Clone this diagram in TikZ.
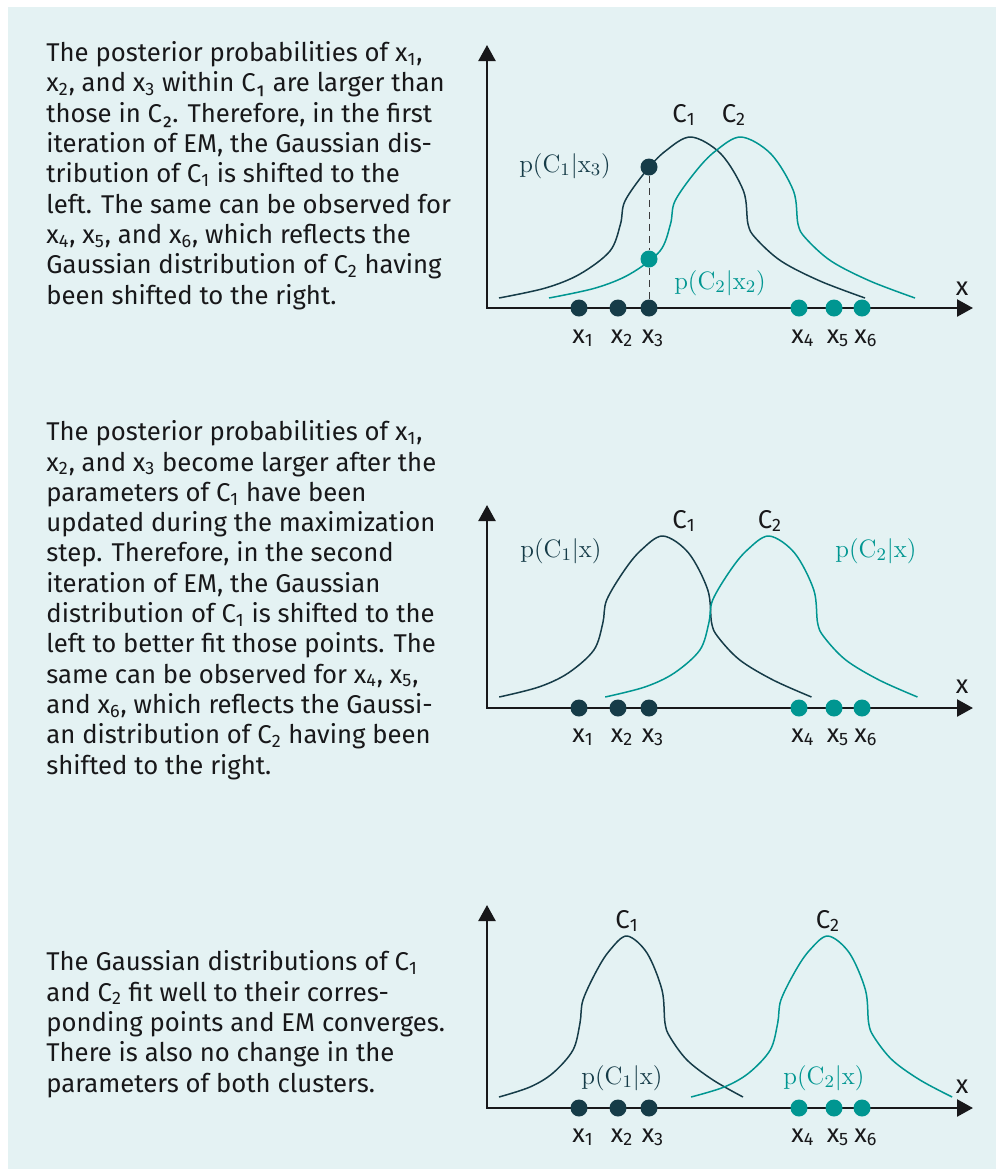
\RequirePackage{fix-cm}
\documentclass[tikz,border=0pt]{standalone}
\usepackage[no-math]{fontspec}
\setmainfont{Fira Sans}
\usepackage{tikz}
\usetikzlibrary{
    arrows.meta,
    calc,
    positioning
}
\definecolor{ink}{RGB}{24,24,26}
\definecolor{panel}{RGB}{228,242,243}
\definecolor{clusterA}{RGB}{22,60,72}
\definecolor{clusterB}{RGB}{0,150,145}
\newcommand{\bodyfont}{\fontsize{12.85}{15.15}\selectfont}
\newcommand{\sub}[1]{\textsubscript{#1}}
% one bell curve: style, peak x, peak y, horizontal stretch
\newcommand{\bellcurve}[4]{%
    \begin{scope}[shift={(#2,#3)}, xscale=#4]
        \draw[#1] plot[smooth, tension=0.55] coordinates {
            (-128,161) (-97,151) (-74,137) (-54,114) (-47,87) (-44,64)
            (-30,34) (-17,14) (0,0) (20,17) (35,54) (38,87) (43,101)
            (60,124) (86,144) (116,161)};
    \end{scope}}
\tikzset{
    line cap=round,
    line join=round,
    explain/.style={
        anchor=base west,
        align=left,
        inner sep=0pt,
        text=ink,
        font=\bodyfont
    },
    axis/.style={
        draw=ink,
        line width=1.2pt,
        line join=miter,
        arrows={Triangle[length=8pt,width=8.5pt]-Triangle[length=8pt,width=8.5pt]}
    },
    curveA/.style={draw=clusterA, line width=0.75pt},
    curveB/.style={draw=clusterB, line width=0.75pt},
    dotA/.style={circle, fill=clusterA, inner sep=0pt, minimum size=8.5pt},
    dotB/.style={circle, fill=clusterB, inner sep=0pt, minimum size=8.5pt},
    ptlabel/.style={anchor=base, inner sep=0pt, text=ink, font=\bodyfont},
    clabel/.style={ptlabel},
    postA/.style={anchor=base, inner sep=0pt, text=clusterA,
        font=\fontsize{12.6}{15}\selectfont},
    postB/.style={postA, text=clusterB},
    guide/.style={draw=ink!85, dash pattern=on 3.5pt off 2.5pt, line width=0.45pt}
}

\begin{document}
\begin{tikzpicture}[x=0.5pt, y=-0.5pt]
\useasboundingbox (0,0) rectangle (996,1169);
\fill[panel] (8,7) rectangle (996,1169);

% Explanations (anchored at the baseline of the last line)
\node[explain] (txt1) at (46,304) {The posterior probabilities of x\sub{1},\\
x\sub{2}, and x\sub{3} within C₁ are larger than\\
those in C₂. Therefore, in the first\\
iteration of EM, the Gaussian dis-\\
tribution of C\sub{1} is shifted to the\\
left. The same can be observed for\\
x\sub{4}, x\sub{5}, and x\sub{6}, which reflects the\\
Gaussian distribution of C\sub{2} having\\
been shifted to the right.};

\node[explain] (txt2) at (46,774) {The posterior probabilities of x\sub{1},\\
x\sub{2}, and x\sub{3} become larger after the\\
parameters of C\sub{1} have been\\
updated during the maximization\\
step. Therefore, in the second\\
iteration of EM, the Gaussian\\
distribution of C\sub{1} is shifted to the\\
left to better fit those points. The\\
same can be observed for x\sub{4}, x\sub{5},\\
and x\sub{6}, which reflects the Gaussi-\\
an distribution of C\sub{2} having been\\
shifted to the right.};

\node[explain] (txt3) at (46,1092) {The Gaussian distributions of C\sub{1}\\
and C\sub{2} fit well to their corres-\\
ponding points and EM converges.\\
There is also no change in the\\
parameters of both clusters.};

% Plot 1: first iteration
\coordinate (o1) at (487,308);
\draw[axis] (487,45) -- (o1) -- (973,308);
\bellcurve{curveA}{691}{137}{1.5}
\bellcurve{curveB}{741}{137}{1.5}
\foreach \i/\px in {1/579, 2/618, 3/649}
    \node[dotA] (a\i) at (\px,308) {};
\foreach \i/\px in {4/799, 5/834, 6/862}
    \node[dotB] (a\i) at (\px,308) {};
\foreach \i/\px in {1/583, 2/622, 3/653, 4/803, 5/838, 6/866}
    \node[ptlabel] (la\i) at (\px,343) {x\sub{\i}};
\node[dotA] (qa) at (649,167) {};
\node[dotB] (qb) at (649,259) {};
\draw[guide] (qa) -- (qb);
\draw[guide] (qb) -- (a3);
\node[clabel] (ca1) at (684,122) {C\sub{1}};
\node[clabel] (ca2) at (734,122) {C\sub{2}};
\node[postA] (pa1) at (565,172) {$\mathrm{p}(\mathrm{C}_1|\mathrm{x}_3)$};
\node[postB] (pa2) at (720,289) {$\mathrm{p}(\mathrm{C}_2|\mathrm{x}_2)$};
\node[ptlabel] (xa) at (962,295) {x};

% Plot 2: second iteration
\coordinate (o2) at (487,708);
\draw[axis] (487,505) -- (o2) -- (973,708);
\bellcurve{curveA}{663}{536}{1.28}
\bellcurve{curveB}{769}{536}{1.28}
\foreach \i/\px in {1/579, 2/618, 3/649}
    \node[dotA] (b\i) at (\px,708) {};
\foreach \i/\px in {4/799, 5/834, 6/862}
    \node[dotB] (b\i) at (\px,708) {};
\foreach \i/\px in {1/583, 2/622, 3/653, 4/803, 5/838, 6/866}
    \node[ptlabel] (lb\i) at (\px,742) {x\sub{\i}};
\node[clabel] (cb1) at (684,528) {C\sub{1}};
\node[clabel] (cb2) at (770,528) {C\sub{2}};
\node[postA] (pb1) at (561,557) {$\mathrm{p}(\mathrm{C}_1|\mathrm{x})$};
\node[postB] (pb2) at (876,557) {$\mathrm{p}(\mathrm{C}_2|\mathrm{x})$};
\node[ptlabel] (xb) at (962,693) {x};

% Plot 3: converged
\coordinate (o3) at (487,1108);
\draw[axis] (487,905) -- (o3) -- (973,1108);
\bellcurve{curveA}{627}{936}{1.0}
\bellcurve{curveB}{828}{936}{1.07}
\foreach \i/\px in {1/579, 2/618, 3/649}
    \node[dotA] (c\i) at (\px,1108) {};
\foreach \i/\px in {4/799, 5/834, 6/862}
    \node[dotB] (c\i) at (\px,1108) {};
\foreach \i/\px in {1/583, 2/622, 3/653, 4/803, 5/838, 6/866}
    \node[ptlabel] (lc\i) at (\px,1142) {x\sub{\i}};
\node[clabel] (cc1) at (627,928) {C\sub{1}};
\node[clabel] (cc2) at (828,928) {C\sub{2}};
\node[postA] (pc1) at (622,1084) {$\mathrm{p}(\mathrm{C}_1|\mathrm{x})$};
\node[postB] (pc2) at (824,1084) {$\mathrm{p}(\mathrm{C}_2|\mathrm{x})$};
\node[ptlabel] (xc) at (962,1093) {x};
\end{tikzpicture}
\end{document}
